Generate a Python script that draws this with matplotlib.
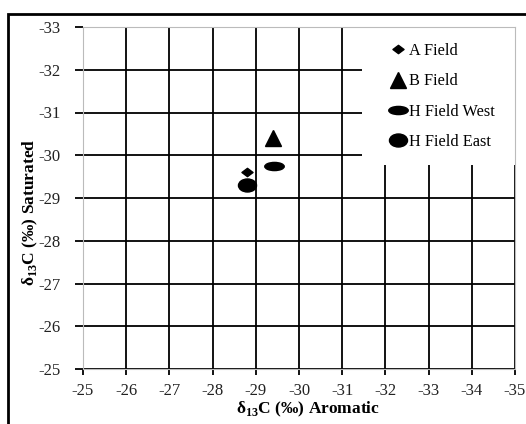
import numpy as np
import matplotlib
matplotlib.use("Agg")
import matplotlib.pyplot as plt
from matplotlib.path import Path
from matplotlib.lines import Line2D
from matplotlib.patches import Rectangle

plt.rcParams["font.family"] = ["Liberation Serif", "DejaVu Serif"]
plt.rcParams["mathtext.fontset"] = "custom"
plt.rcParams["mathtext.rm"] = "Liberation Serif"
plt.rcParams["mathtext.bf"] = "Liberation Serif:bold"

# data (delta 13C, per mil)
fields = ["A Field", "B Field", "H Field West", "H Field East"]
aromatic = [-28.8, -29.4, -29.42, -28.8]
saturated = [-29.6, -30.4, -29.75, -29.3]

x_ticks = [-25, -26, -27, -28, -29, -30, -31, -32, -33, -34, -35]
y_ticks = [-25, -26, -27, -28, -29, -30, -31, -32, -33]

# marker shapes
circ = Path.unit_circle()
east_mark = Path(circ.vertices * [1.0, 0.72], circ.codes)
west_mark = Path(circ.vertices * [1.0, 0.42], circ.codes)
diamond = Path([(-1, 0), (0, 0.75), (1, 0), (0, -0.75), (-1, 0)],
               [Path.MOVETO, Path.LINETO, Path.LINETO, Path.LINETO, Path.CLOSEPOLY])
styles = [(diamond, 8), ("^", 11), (west_mark, 14), (east_mark, 13)]

fig = plt.figure(figsize=(5.26, 4.24), dpi=100)
ax = fig.add_axes([83/526, 1-369/424, 432/526, 342/424])

for i in range(len(fields)):
    m, ms = styles[i]
    ax.plot(aromatic[i], saturated[i], linestyle="none", marker=m, markersize=ms,
            color="black", zorder=3)

ax.set_xlim(-25, -35)
ax.set_ylim(-25, -33)
ax.set_xticks(x_ticks)
ax.set_yticks(y_ticks)
ax.set_xticklabels([str(t) for t in x_ticks])
ax.set_yticklabels([str(t) for t in y_ticks])
ax.set_axisbelow(True)
ax.grid(True, color="black", linewidth=1.3)
ax.tick_params(axis="y", length=6, width=1.3, color="black", labelsize=12, pad=10,
               labelcolor="#222222")
ax.tick_params(axis="x", length=4, width=1.3, color="black", labelsize=12, pad=6,
               labelcolor="#222222")
for s in ax.spines.values():
    s.set_color("#bbbbbb")
    s.set_linewidth(0.8)

ax.set_ylabel("δ$_{\\mathbf{13}}$C (‰) Saturated", fontsize=12.5, fontweight="bold")
ax.set_xlabel("δ$_{\\mathbf{13}}$C (‰) Aromatic", fontsize=12.5, fontweight="bold")
ax.yaxis.set_label_coords(-0.1, 0.459)
ax.xaxis.set_label_coords(0.521, -0.09)

# white legend area
ax.add_patch(Rectangle((0.646, 0.596), 0.354, 0.404, transform=ax.transAxes,
                       facecolor="white", edgecolor="none", zorder=1))
handles = [Line2D([], [], linestyle="none", marker=styles[i][0], markersize=styles[i][1],
                  color="black") for i in range(len(fields))]
ax.legend(handles, fields, loc="upper left", bbox_to_anchor=(0.676, 0.996),
          frameon=False, fontsize=11.7, handlelength=1.0, handletextpad=0.2,
          labelspacing=0.88)

# outer frame
fig.patches.append(Rectangle((8/526, -0.1), 1.2, 1.1 - 14/424, transform=fig.transFigure,
                             fill=False, edgecolor="black", linewidth=2))

fig.savefig("out.png", dpi=100)
